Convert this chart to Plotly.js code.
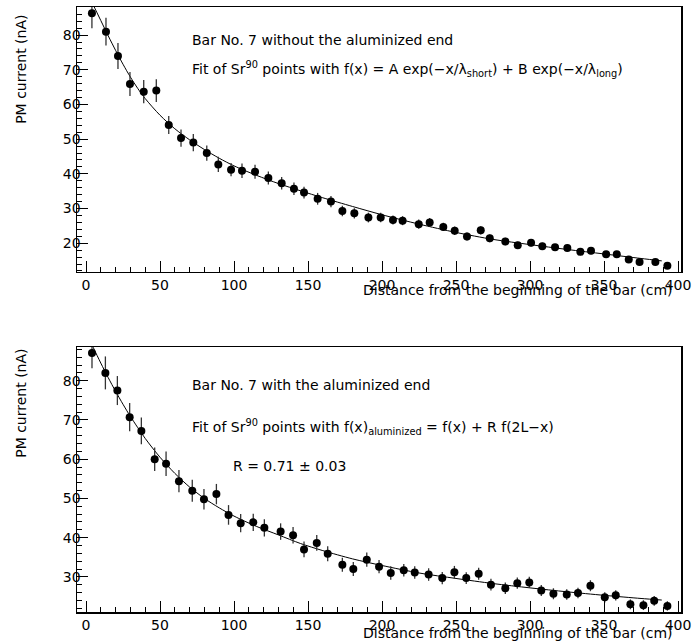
<!DOCTYPE html>
<html>
<head>
<meta charset="utf-8">
<script src="https://cdn.plot.ly/plotly-3.0.1.min.js"></script>
<style>html,body{margin:0;padding:0;background:#fff;}</style>
</head>
<body>
<div id="chart" style="width:696px;height:643px;"></div>
<script>
// ---- Top panel: bar without the aluminized end ----
const topX = [4.0, 13.5, 21.6, 29.7, 39.0, 47.5, 55.9, 64.2, 72.5, 81.6, 89.4, 98.0, 105.4, 114.2, 123.2, 132.2, 140.5, 147.3, 156.5, 165.5, 173.2, 181.3, 190.8, 199.1, 207.4, 213.9, 224.8, 232.2, 241.4, 249.1, 257.4, 266.7, 272.8, 283.3, 291.7, 300.7, 308.3, 316.9, 325.2, 334.0, 341.2, 351.4, 358.6, 366.7, 374.0, 384.7, 392.8];
const topY = [86.3, 81.0, 74.0, 65.9, 63.7, 64.0, 54.1, 50.3, 49.0, 46.0, 42.7, 41.2, 40.9, 40.6, 38.8, 37.3, 35.7, 34.6, 32.8, 32.0, 29.3, 28.6, 27.4, 27.4, 26.7, 26.5, 25.5, 26.0, 24.7, 23.6, 21.9, 23.7, 21.4, 20.5, 19.4, 20.1, 19.1, 18.8, 18.6, 17.5, 17.8, 16.8, 16.8, 15.3, 14.6, 14.6, 13.5];
const topErr = [4.3, 4.0, 3.75, 3.45, 3.35, 3.3, 2.6, 2.5, 2.5, 2.2, 2.2, 1.9, 2.1, 2.0, 1.9, 1.8, 1.8, 1.7, 1.7, 1.6, 1.5, 1.5, 1.4, 1.35, 1.3, 1.3, 1.3, 1.25, 1.2, 1.2, 1.15, 1.2, 1.1, 1.1, 1.05, 1.05, 1.0, 1.0, 1.0, 0.95, 0.95, 0.9, 0.9, 0.9, 0.85, 0.85, 0.85];
const topFitX = [0, 5, 10, 15, 20, 25, 30, 35, 40, 50, 60, 70, 80, 90, 100, 115, 130, 145, 160, 180, 200, 225, 250, 275, 300, 325, 350, 375, 389];
const topFitY = [93.2, 88.6, 84.2, 79.8, 75.6, 71.6, 67.9, 64.6, 61.7, 56.9, 53.0, 49.8, 47.0, 44.5, 42.3, 39.6, 37.2, 35.1, 33.1, 30.6, 28.2, 25.5, 23.1, 21.1, 19.6, 18.2, 16.9, 15.6, 14.9];

// ---- Bottom panel: bar with the aluminized end ----
const botX = [4.05, 13.1, 21.2, 29.5, 37.4, 46.4, 54.1, 62.8, 71.8, 79.7, 88.1, 96.3, 104.5, 113.0, 120.5, 131.5, 139.9, 147.3, 155.9, 163.3, 173.2, 180.6, 189.7, 198.0, 205.9, 214.7, 222.1, 231.5, 240.7, 248.9, 256.9, 265.3, 273.6, 283.3, 291.4, 299.5, 307.6, 315.8, 324.8, 332.4, 340.8, 350.5, 357.9, 367.8, 376.6, 383.9, 392.8];
const botY = [87.1, 82.0, 77.5, 70.7, 67.2, 60.0, 58.85, 54.4, 51.95, 49.8, 51.1, 45.8, 43.7, 43.9, 42.5, 41.55, 40.6, 37.0, 38.65, 35.9, 33.1, 32.0, 34.4, 32.6, 31.0, 31.7, 31.1, 30.6, 29.7, 31.2, 29.7, 30.8, 28.0, 27.1, 28.4, 28.6, 26.55, 25.7, 25.5, 25.9, 27.75, 24.8, 25.3, 23.0, 22.8, 23.9, 22.6];
const botErr = [3.9, 4.2, 3.7, 3.6, 3.4, 3.0, 3.1, 2.85, 2.8, 2.6, 2.6, 2.5, 2.3, 2.2, 2.2, 2.1, 2.1, 2.0, 2.0, 1.9, 1.8, 1.8, 1.8, 1.7, 1.7, 1.6, 1.6, 1.6, 1.55, 1.6, 1.5, 1.5, 1.5, 1.45, 1.45, 1.45, 1.4, 1.4, 1.35, 1.35, 1.4, 1.3, 1.3, 1.25, 1.25, 1.25, 1.2];
const botFitX = [0, 5, 10, 15, 20, 25, 30, 40, 50, 60, 70, 80, 90, 100, 115, 130, 145, 160, 180, 200, 225, 250, 275, 300, 325, 350, 375, 389];
const botFitY = [92.4, 88.4, 84.5, 80.8, 77.3, 74.0, 70.9, 65.3, 60.5, 56.4, 52.9, 50.0, 47.6, 45.5, 42.9, 40.7, 38.5, 36.7, 34.6, 32.9, 31.0, 29.6, 28.3, 27.2, 26.2, 25.3, 24.5, 24.1];

// ---- Texts ----
const xTitle = "Distance from the beginning of the bar (cm)";
const yTitle = "PM current (nA)";
const topLine1 = "Bar No. 7 without the aluminized end";
const topLine2 = "Fit of Sr<sup>90</sup> points with f(x) = A exp(\u2212x/\u03bb<sub>short</sub>) + B exp(\u2212x/\u03bb<sub>long</sub>)";
const botLine1 = "Bar No. 7 with the aluminized end";
const botLine2 = "Fit of Sr<sup>90</sup> points with f(x)<sub>aluminized</sub> = f(x) + R f(2L\u2212x)";
const botLine3 = "R = 0.71 \u00b1 0.03";

function pts(x, y, err, xa, ya) {
  return {
    x: x, y: y, xaxis: xa, yaxis: ya, type: 'scatter', mode: 'markers',
    marker: {color: 'black', size: 8},
    error_y: {type: 'data', array: err, visible: true, color: '#333', thickness: 1.3, width: 0}
  };
}
function fit(x, y, xa, ya) {
  return {
    x: x, y: y, xaxis: xa, yaxis: ya, type: 'scatter', mode: 'lines',
    line: {color: 'black', width: 1, shape: 'spline', smoothing: 0.8}
  };
}

const data = [
  fit(topFitX, topFitY, 'x', 'y'),
  pts(topX, topY, topErr, 'x', 'y'),
  fit(botFitX, botFitY, 'x2', 'y2'),
  pts(botX, botY, botErr, 'x2', 'y2')
];

const xCommon = {
  range: [-6.08, 402], dtick: 50, tick0: 0,
  showline: true, linecolor: 'black', linewidth: 1.5, mirror: true,
  ticks: 'inside', ticklen: 11, tickwidth: 1, tickcolor: 'black',
  minor: {dtick: 10, tick0: 0, ticks: 'inside', ticklen: 5, tickwidth: 1, tickcolor: 'black'},
  showgrid: false, zeroline: false, tickfont: {size: 14, color: 'black'}
};
const yCommon = {
  dtick: 10, tick0: 0,
  showline: true, linecolor: 'black', linewidth: 1.5, mirror: true,
  ticks: 'inside', ticklen: 11, tickwidth: 1, tickcolor: 'black',
  minor: {dtick: 2, tick0: 0, ticks: 'inside', ticklen: 5, tickwidth: 1, tickcolor: 'black'},
  showgrid: false, zeroline: false, tickfont: {size: 14, color: 'black'},
  ticklabelstandoff: -8
};

function ann(text, x, y, opts) {
  return Object.assign({text: text, x: x, y: y, xref: 'paper', yref: 'paper',
    xanchor: 'left', yanchor: 'middle', showarrow: false,
    font: {size: 14, color: 'black'}}, opts || {});
}

const layout = {
  width: 696, height: 643,
  margin: {l: 77, r: 15, t: 7, b: 31},
  paper_bgcolor: 'white', plot_bgcolor: 'white',
  font: {family: 'DejaVu Sans', size: 14, color: 'black'},
  showlegend: false,
  xaxis: Object.assign({}, xCommon, {anchor: 'y', domain: [0, 1]}),
  yaxis: Object.assign({}, yCommon, {anchor: 'x', domain: [0.562, 1], range: [11.7, 88.1]}),
  xaxis2: Object.assign({}, xCommon, {anchor: 'y2', domain: [0, 1]}),
  yaxis2: Object.assign({}, yCommon, {anchor: 'x2', domain: [0, 0.438], range: [21.05, 88.6]}),
  annotations: [
    ann(topLine1, 0.187, 0.945),
    ann(topLine2, 0.187, 0.8975),
    ann(botLine1, 0.187, 0.3744),
    ann(botLine2, 0.187, 0.3058),
    ann(botLine3, 0.2545, 0.2421),
    ann(xTitle, 0.99, 0.532, {xanchor: 'right'}),
    ann(xTitle, 0.99, -0.035, {xanchor: 'right'}),
    ann(yTitle, -0.093, 0.8975, {xanchor: 'center', textangle: -90}),
    ann(yTitle, -0.093, 0.3455, {xanchor: 'center', textangle: -90})
  ]
};

Plotly.newPlot('chart', data, layout, {displayModeBar: false, staticPlot: true});
</script>
</body>
</html>
